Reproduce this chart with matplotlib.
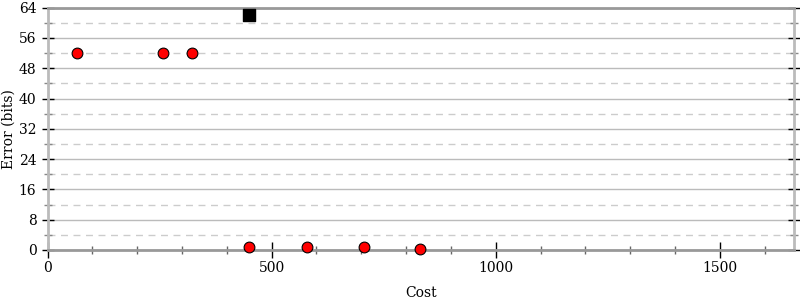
import matplotlib
matplotlib.use("Agg")
import matplotlib.pyplot as plt
from matplotlib.ticker import MultipleLocator

# ── Data ─────────────────────────────────────────────────────────────────────
frontier_cost = [66, 258, 322, 449, 578, 705, 832]
frontier_err = [52, 52, 52, 0.9, 0.9, 0.9, 0.25]
initial_cost = [449]
initial_err = [62]

x_max = 1665
y_max = 64

plt.rcParams["font.family"] = ["DejaVu Serif"]

fig = plt.figure(figsize=(8, 3), dpi=100)
ax = fig.add_axes([0.0594, 0.1667, 0.933, 0.8077])

ax.set_xlim(0, x_max)
ax.set_ylim(0, y_max)

ax.yaxis.set_major_locator(MultipleLocator(8))
ax.yaxis.set_minor_locator(MultipleLocator(4))
ax.xaxis.set_major_locator(MultipleLocator(500))
ax.xaxis.set_minor_locator(MultipleLocator(100))

ax.grid(True, axis="y", which="major", color="#bbbbbb", linewidth=1)
ax.grid(True, axis="y", which="minor", color="#cccccc", linewidth=1,
        linestyle=(0, (5, 4)))
ax.set_axisbelow(True)

for side in ("top", "bottom"):
    ax.spines[side].set_color("#999999")
    ax.spines[side].set_linewidth(2)
for side in ("left", "right"):
    ax.spines[side].set_color("#bbbbbb")
    ax.spines[side].set_linewidth(2)

ax.tick_params(axis="y", which="major", direction="inout", length=9,
               width=1, color="black", labelsize=10, left=True, right=True)
ax.tick_params(axis="y", which="minor", direction="inout", length=6,
               width=1, color="#888888", left=True, right=True)
ax.tick_params(axis="x", which="major", direction="inout", length=12,
               width=1, color="black", labelsize=10, pad=2)
ax.tick_params(axis="x", which="minor", direction="inout", length=6,
               width=1, color="#666666")

ax.scatter(frontier_cost, frontier_err, s=60, c="red", edgecolors="black",
           linewidths=0.8, zorder=3, clip_on=False)
ax.scatter(initial_cost, initial_err, s=80, c="black", marker="s",
           zorder=3, clip_on=False)

ax.set_xlabel("Cost", fontsize=10, labelpad=8)
ax.set_ylabel("Error (bits)", fontsize=10, labelpad=2)

fig.savefig("out.png", dpi=100)
